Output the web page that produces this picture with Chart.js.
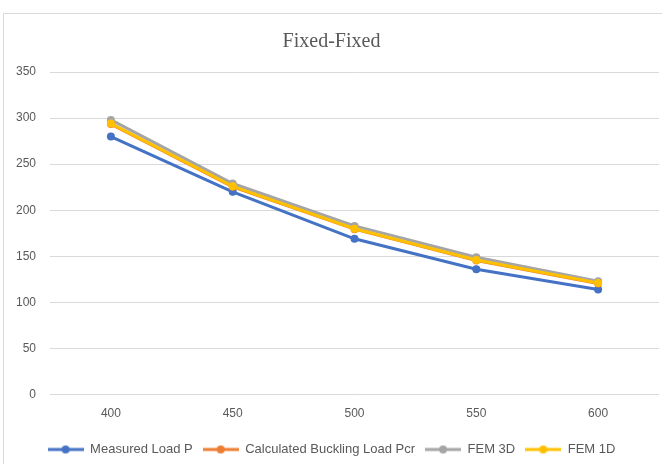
<!DOCTYPE html>
<html>
<head>
<meta charset="utf-8">
<script src="https://cdn.jsdelivr.net/npm/chart.js@4"></script>
<style>
  html, body { margin: 0; padding: 0; background: #fff; overflow: hidden; }
  #frame { position: absolute; left: 3px; top: 13px; width: 668px; height: 480px; border: 1px solid #d9d9d9; }
  #chartCanvas { position: absolute; left: 0; top: 0; }
</style>
</head>
<body>
<div id="frame"><canvas id="chartCanvas" width="666" height="456"></canvas></div>
<script>
// Fixed-Fixed buckling load vs length
const lengths = ["400", "450", "500", "550", "600"];
const measuredLoad = [280, 220, 169, 136, 114];
const calculatedLoad = [293.5, 225.5, 179.5, 145.5, 120.5];
const fem3d = [298, 229, 183, 149, 123];
const fem1d = [294, 226, 180, 146, 121];
const yTicks = [0, 50, 100, 150, 200, 250, 300, 350];

const textColor = "#595959";
const tickFont = { family: "'Liberation Sans', Arial, sans-serif", size: 12 };
const legendFont = { family: "'Liberation Sans', Arial, sans-serif", size: 13 };

// legend icon: short line with a dot in the middle
function legendIcon(color) {
    const c = document.createElement("canvas");
    c.width = 36;
    c.height = 10;
    const g = c.getContext("2d");
    g.strokeStyle = color;
    g.lineWidth = 3;
    g.beginPath();
    g.moveTo(0, 5);
    g.lineTo(36, 5);
    g.stroke();
    g.fillStyle = color;
    g.beginPath();
    g.arc(18, 5, 4, 0, Math.PI * 2);
    g.fill();
    return c;
}

function series(label, data, color, order) {
    return {
        label: label,
        data: data,
        borderColor: color,
        backgroundColor: color,
        borderWidth: 3,
        pointRadius: 4,
        pointHoverRadius: 4,
        pointBorderWidth: 0,
        tension: 0,
        order: order,
    };
}

const chartCanvas = document.getElementById("chartCanvas");

const chart = new Chart(chartCanvas, {
    type: "line",
    data: {
        labels: lengths,
        datasets: [
            series("Measured Load P", measuredLoad, "#4472C4", 3),
            series("Calculated Buckling Load Pcr", calculatedLoad, "#ED7D31", 2),
            series("FEM 3D", fem3d, "#A5A5A5", 1),
            series("FEM 1D", fem1d, "#FFC000", 0),
        ],
    },
    options: {
        responsive: false,
        animation: false,
        layout: { padding: { left: 0, right: 11, top: 0, bottom: 4 } },
        plugins: {
            title: {
                display: true,
                text: "Fixed-Fixed",
                color: textColor,
                font: { family: "'Liberation Serif', 'DejaVu Serif', serif", size: 20, weight: "normal" },
                padding: { top: 16, bottom: 18 },
            },
            legend: {
                position: "bottom",
                labels: {
                    color: textColor,
                    font: legendFont,
                    usePointStyle: true,
                    pointStyleWidth: 36,
                    padding: 10,
                    sort: (a, b) => a.datasetIndex - b.datasetIndex,
                    generateLabels: (ch) => ch.data.datasets.map((ds, i) => ({
                        text: ds.label,
                        fillStyle: ds.borderColor,
                        strokeStyle: ds.borderColor,
                        lineWidth: 0,
                        pointStyle: legendIcon(ds.borderColor),
                        fontColor: textColor,
                        datasetIndex: i,
                        hidden: false,
                    })),
                },
            },
            tooltip: { enabled: false },
        },
        scales: {
            x: {
                offset: true,
                grid: { display: false, drawTicks: false },
                border: { display: false },
                ticks: { color: textColor, font: tickFont, padding: 12 },
            },
            y: {
                min: 0,
                max: 350,
                afterFit: (s) => { s.width = 46; },
                afterBuildTicks: (s) => { s.ticks = yTicks.map(v => ({ value: v })); },
                grid: { color: "#d9d9d9", lineWidth: 1, drawTicks: false },
                border: { display: false },
                ticks: { color: textColor, font: tickFont, padding: 14 },
            },
        },
    },
});
</script>
</body>
</html>
